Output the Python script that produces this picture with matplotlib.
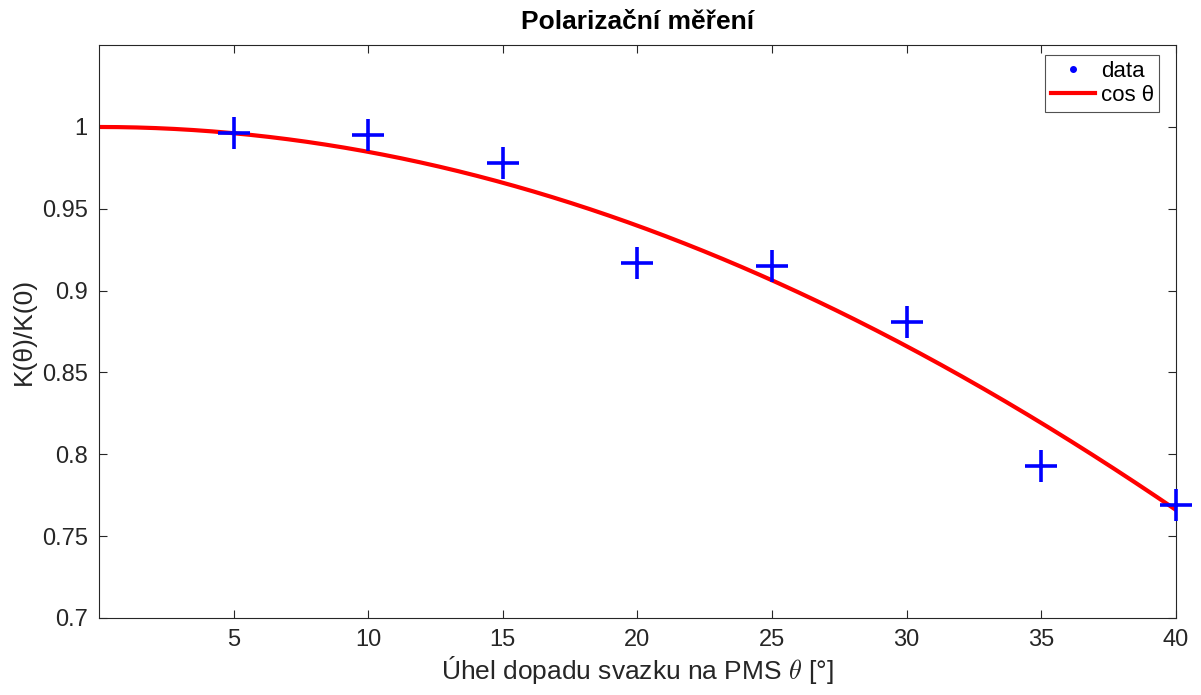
import numpy as np
import matplotlib.pyplot as plt
from matplotlib.lines import Line2D

plt.rcParams['font.family'] = ['Liberation Sans', 'DejaVu Sans']
plt.rcParams['mathtext.fontset'] = 'cm'

# --- Data ---
uhel = [5, 10, 15, 20, 25, 30, 35, 40]
pomer = [0.9963, 0.9951, 0.978, 0.917, 0.915, 0.881, 0.7927, 0.769]

x_ticks = [5, 10, 15, 20, 25, 30, 35, 40]
y_ticks = [0.7, 0.75, 0.8, 0.85, 0.9, 0.95, 1]

# teoreticka krivka cos(theta)
theta = np.linspace(0, 40, 400)
teorie = np.cos(np.deg2rad(theta))

seda = (0.15, 0.15, 0.15)

fig = plt.figure(figsize=(12.01, 6.95), dpi=100)
ax = fig.add_axes([0.0824, 0.111, 0.8966, 0.824])

ax.plot(theta, teorie, color='red', lw=3.0, zorder=2)
ax.plot(uhel, pomer, linestyle='none', marker='+', color='blue',
        markersize=23, markeredgewidth=2.6, zorder=3, clip_on=False)

ax.set_xlim(0, 40)
ax.set_ylim(0.7, 1.05)
ax.set_xticks(x_ticks)
ax.set_yticks(y_ticks)
ax.set_yticklabels(['0.7', '0.75', '0.8', '0.85', '0.9', '0.95', '1'])
ax.tick_params(direction='in', length=6, width=0.8, colors=seda,
               labelsize=17, top=True, right=True, pad=8)
for s in ax.spines.values():
    s.set_color(seda)
    s.set_linewidth(0.8)

ax.set_title('Polarizační měření', fontsize=19, fontweight='bold', pad=12)
ax.set_xlabel(r'Úhel dopadu svazku na PMS $\theta$ [°]', fontsize=19, color=seda, labelpad=2)
ax.set_ylabel('K(θ)/K(0)', fontsize=19, color=seda, labelpad=4)

handles = [
    Line2D([], [], linestyle='none', marker='o', color='blue', markersize=4),
    Line2D([], [], color='red', lw=3.0),
]
leg = ax.legend(handles, ['data', 'cos θ'], loc='upper right', fontsize=16,
                frameon=True, fancybox=False, edgecolor=seda, handlelength=2.0,
                borderaxespad=0.45, handletextpad=0.25, labelspacing=0.15,
                borderpad=0.25, bbox_to_anchor=(0.994, 1.0))
leg.get_frame().set_linewidth(0.8)

fig.savefig('out.png', dpi=100)
